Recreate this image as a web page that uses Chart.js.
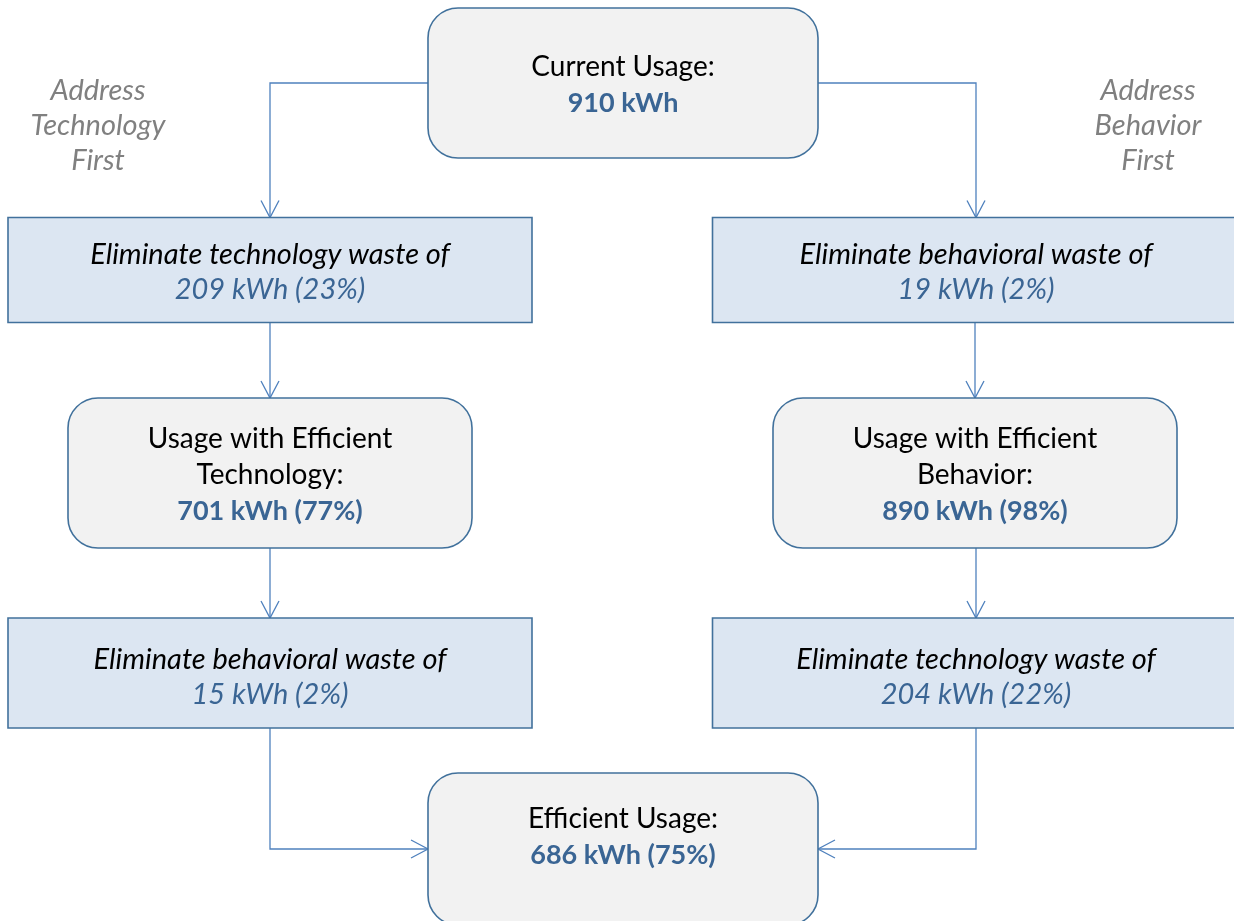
<!DOCTYPE html>
<html>
<head>
<meta charset="utf-8">
<script src="https://cdn.jsdelivr.net/npm/chart.js@4.4.1/dist/chart.umd.min.js"></script>
<style>
  html, body { margin: 0; padding: 0; background: #ffffff; overflow: hidden; }
  #wrap { width: 1234px; height: 921px; }
</style>
</head>
<body>
<div id="wrap"><canvas id="fluxo" width="1234" height="921"></canvas></div>
<script>
// texto de cada etapa (linhas) e valores em kWh / %
const stepTitles = [
    ['Current Usage:'],
    ['Eliminate technology waste of'],
    ['Usage with Efficient', 'Technology:'],
    ['Eliminate behavioral waste of'],
    ['Eliminate behavioral waste of'],
    ['Usage with Efficient', 'Behavior:'],
    ['Eliminate technology waste of'],
    ['Efficient Usage:']
];
const stepKwh = [910, 209, 701, 15, 19, 890, 204, 686];
const stepPct = [null, 23, 77, 2, 2, 98, 22, 75];
const pathLabels = [['Address', 'Technology', 'First'], ['Address', 'Behavior', 'First']];
// ligações entre etapas
const linkFrom = [0, 1, 2, 3, 0, 4, 5, 6];
const linkTo   = [1, 2, 3, 7, 4, 5, 6, 7];

// layout (unidades das escalas x/y); ty = centro do texto
const colL = 270, colC = 623, colR = 976;
const layout = [
    { cx: colC, cy: 83,  w: 390, h: 150, ty: 85,  kind: 'round' },
    { cx: colL, cy: 270, w: 524, h: 105, ty: 272, kind: 'rect' },
    { cx: colL, cy: 473, w: 404, h: 150, ty: 475, kind: 'round' },
    { cx: colL, cy: 673, w: 524, h: 110, ty: 677, kind: 'rect' },
    { cx: colR, cy: 270, w: 527, h: 105, ty: 272, kind: 'rect' },
    { cx: colR - 1, cy: 473, w: 404, h: 150, ty: 475, kind: 'round' },
    { cx: colR, cy: 673, w: 527, h: 110, ty: 677, kind: 'rect' },
    { cx: colC, cy: 849, w: 390, h: 152, ty: 837, kind: 'round' }
];
const labelPos = [{ x: 98, y: 91 }, { x: 1148, y: 91 }];

const FONT = 'Lato, "Open Sans", sans-serif';
const corLinha = '#4f81bd';
const corBorda = '#41719c';
const corValor = '#3a6594';

function fmtValor(i){
    return stepPct[i] === null ? stepKwh[i] + ' kWh' : stepKwh[i] + ' kWh (' + stepPct[i] + '%)';
}

function roundRect(ctx, x, y, w, h, r){
    ctx.beginPath();
    ctx.moveTo(x + r, y);
    ctx.lineTo(x + w - r, y);
    ctx.arcTo(x + w, y, x + w, y + r, r);
    ctx.lineTo(x + w, y + h - r);
    ctx.arcTo(x + w, y + h, x + w - r, y + h, r);
    ctx.lineTo(x + r, y + h);
    ctx.arcTo(x, y + h, x, y + h - r, r);
    ctx.lineTo(x, y + r);
    ctx.arcTo(x, y, x + r, y, r);
    ctx.closePath();
}

function seta(ctx, x, y, dir){
    // ponta aberta em V
    const L = 17, W = 9;
    ctx.beginPath();
    if (dir === 'down') { ctx.moveTo(x - W, y - L); ctx.lineTo(x, y); ctx.lineTo(x + W, y - L); }
    if (dir === 'right') { ctx.moveTo(x - L, y - W); ctx.lineTo(x, y); ctx.lineTo(x - L, y + W); }
    if (dir === 'left') { ctx.moveTo(x + L, y - W); ctx.lineTo(x, y); ctx.lineTo(x + L, y + W); }
    ctx.stroke();
}

const fluxoPlugin = {
    id: 'fluxo',
    afterDatasetsDraw(chart){
        const ctx = chart.ctx;
        const sx = chart.scales.x, sy = chart.scales.y;
        const box = i => {
            const n = layout[i];
            const x0 = sx.getPixelForValue(n.cx - n.w / 2), x1 = sx.getPixelForValue(n.cx + n.w / 2);
            const y0 = sy.getPixelForValue(n.cy - n.h / 2), y1 = sy.getPixelForValue(n.cy + n.h / 2);
            return { x0, x1, y0, y1, cx: (x0 + x1) / 2, cy: (y0 + y1) / 2, ty: sy.getPixelForValue(n.ty) };
        };
        ctx.save();

        // conectores
        ctx.strokeStyle = corLinha;
        ctx.lineWidth = 1.3;
        linkFrom.forEach((f, k) => {
            const a = box(f), b = box(linkTo[k]);
            ctx.beginPath();
            if (f === 0) {
                // sai pela lateral da caixa de cima e desce
                const sideX = b.cx < a.cx ? a.x0 : a.x1;
                ctx.moveTo(sideX, a.cy);
                ctx.lineTo(b.cx, a.cy);
                ctx.lineTo(b.cx, b.y0);
                ctx.stroke();
                seta(ctx, b.cx, b.y0, 'down');
            } else if (linkTo[k] === 7) {
                const sideX = a.cx < b.cx ? b.x0 : b.x1;
                ctx.moveTo(a.cx, a.y1);
                ctx.lineTo(a.cx, b.cy);
                ctx.lineTo(sideX, b.cy);
                ctx.stroke();
                seta(ctx, sideX, b.cy, a.cx < b.cx ? 'right' : 'left');
            } else {
                ctx.moveTo(b.cx, a.y1);
                ctx.lineTo(b.cx, b.y0);
                ctx.stroke();
                seta(ctx, b.cx, b.y0, 'down');
            }
        });

        // caixas
        layout.forEach((n, i) => {
            const b = box(i);
            ctx.lineWidth = 1.6;
            ctx.strokeStyle = corBorda;
            if (n.kind === 'round') {
                roundRect(ctx, b.x0, b.y0, b.x1 - b.x0, b.y1 - b.y0, 30);
                ctx.fillStyle = '#f2f2f2';
            } else {
                ctx.beginPath();
                ctx.rect(b.x0, b.y0, b.x1 - b.x0, b.y1 - b.y0);
                ctx.fillStyle = '#dce6f2';
            }
            ctx.fill();
            ctx.stroke();

            // texto
            const italic = n.kind === 'rect';
            const linhas = stepTitles[i].map(t => ({ t, cor: '#000000', font: italic ? 'italic 29px ' + FONT : '28px ' + FONT }));
            linhas.push({ t: fmtValor(i), cor: corValor, font: italic ? 'italic 29px ' + FONT : 'bold 27px ' + FONT });
            const lh = italic ? 35 : 36.5;
            const topo = b.ty - (linhas.length - 1) * lh / 2;
            ctx.textAlign = 'center';
            ctx.textBaseline = 'middle';
            linhas.forEach((l, j) => {
                ctx.font = l.font;
                ctx.fillStyle = l.cor;
                ctx.fillText(l.t, b.cx, topo + j * lh);
            });
        });

        // rótulos dos caminhos
        ctx.font = 'italic 29px ' + FONT;
        ctx.fillStyle = '#808080';
        pathLabels.forEach((ls, k) => {
            const x = sx.getPixelForValue(labelPos[k].x);
            ls.forEach((t, j) => ctx.fillText(t, x, sy.getPixelForValue(labelPos[k].y + j * 35)));
        });
        ctx.restore();
    }
};

new Chart(document.getElementById('fluxo'), {
    type: 'scatter',
    data: {
        datasets: [{
            data: layout.map(n => ({ x: n.cx, y: n.cy })),
            pointRadius: 0,
            pointHoverRadius: 0
        }]
    },
    options: {
        responsive: false,
        animation: false,
        events: [],
        layout: { padding: 0 },
        plugins: { legend: { display: false }, tooltip: { enabled: false } },
        scales: {
            x: { type: 'linear', min: 0, max: 1234, display: false },
            y: { type: 'linear', min: 0, max: 921, reverse: true, display: false }
        }
    },
    plugins: [fluxoPlugin]
});
</script>
</body>
</html>
